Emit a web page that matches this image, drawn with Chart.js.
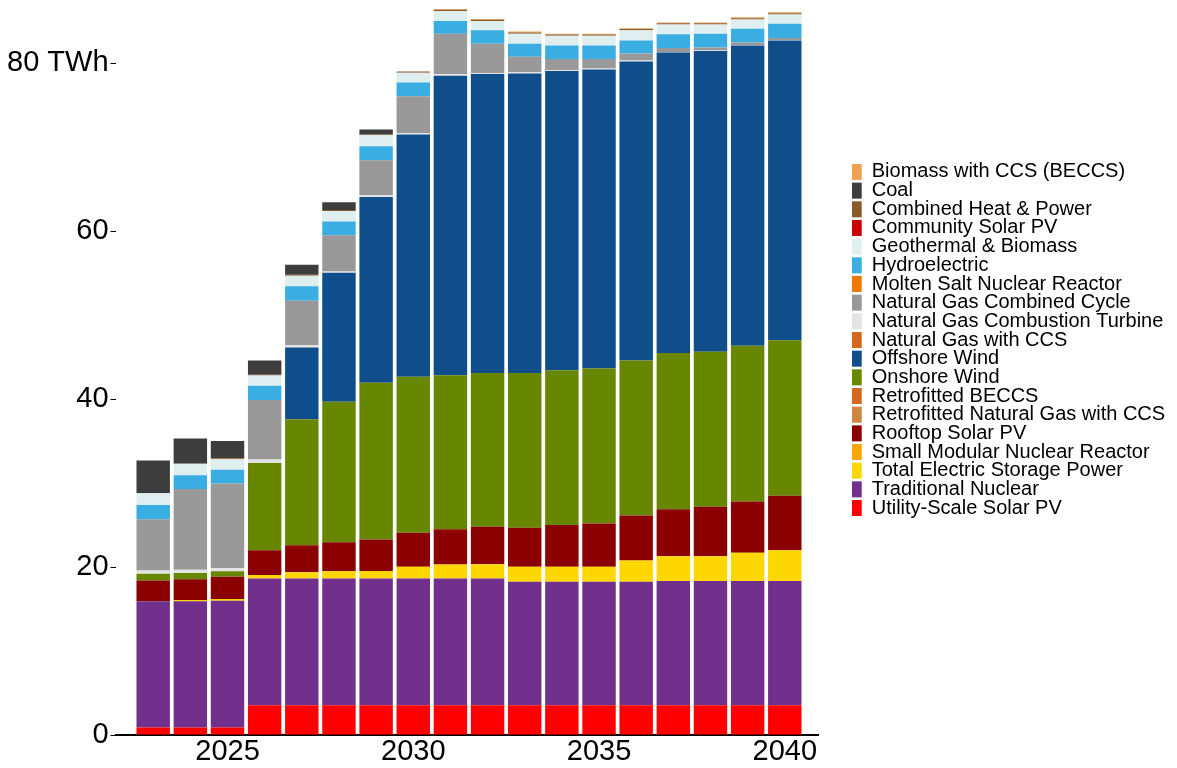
<!DOCTYPE html>
<html>
<head>
<meta charset="utf-8">
<script src="https://cdn.jsdelivr.net/npm/chart.js@4.4.1/dist/chart.umd.min.js"></script>
<style>
  body { margin: 0; background: #fff; }
</style>
</head>
<body>
<canvas id="myChart" width="1177" height="768"></canvas>
<script>
// years and tick labels
const years = [2023, 2024, 2025, 2026, 2027, 2028, 2029, 2030, 2031, 2032, 2033, 2034, 2035, 2036, 2037, 2038, 2039, 2040];
const xTicks = [2025, 2030, 2035, 2040];
const yTicks = [0, 20, 40, 60, 80];
const unit = 'TWh';

// generation by source, TWh
const utilitySolar = [0.9, 0.9, 0.9, 3.55, 3.55, 3.55, 3.55, 3.55, 3.55, 3.55, 3.55, 3.55, 3.55, 3.55, 3.55, 3.55, 3.55, 3.55];
const nuclear = [15.05, 15.05, 15.1, 15.1, 15.1, 15.1, 15.1, 15.1, 15.1, 15.1, 14.7, 14.7, 14.7, 14.7, 14.8, 14.8, 14.8, 14.8];
const storage = [0, 0.15, 0.2, 0.4, 0.75, 0.85, 0.9, 1.4, 1.65, 1.7, 1.8, 1.8, 1.8, 2.55, 2.95, 2.95, 3.35, 3.65];
const smr = [0, 0, 0, 0, 0, 0, 0, 0, 0, 0, 0, 0, 0, 0, 0, 0, 0, 0];
const rooftopSolar = [2.45, 2.45, 2.65, 2.95, 3.2, 3.45, 3.75, 4.05, 4.2, 4.45, 4.65, 4.95, 5.15, 5.35, 5.6, 5.9, 6.1, 6.5];
const retroNgCcs = [0, 0, 0, 0, 0, 0, 0, 0, 0, 0, 0, 0, 0, 0, 0, 0, 0, 0];
const retroBeccs = [0, 0, 0, 0, 0, 0, 0, 0, 0, 0, 0, 0, 0, 0, 0, 0, 0, 0];
const onshore = [0.8, 0.75, 0.65, 10.4, 15.0, 16.75, 18.65, 18.55, 18.35, 18.3, 18.4, 18.45, 18.45, 18.45, 18.6, 18.45, 18.55, 18.5];
const offshore = [0, 0, 0, 0, 8.55, 15.35, 22.1, 28.85, 35.65, 35.6, 35.65, 35.6, 35.6, 35.6, 35.75, 35.8, 35.75, 35.7];
const ngCcs = [0, 0, 0, 0, 0, 0, 0, 0, 0, 0, 0, 0, 0, 0, 0, 0, 0, 0];
const ngCt = [0.4, 0.4, 0.4, 0.4, 0.25, 0.15, 0.25, 0.15, 0.2, 0.1, 0.15, 0.1, 0.1, 0.1, 0.05, 0.05, 0.05, 0.05];
const ngCc = [6.1, 9.6, 10.05, 7.1, 5.3, 4.3, 4.15, 4.4, 4.8, 3.5, 1.85, 1.35, 1.15, 0.85, 0.5, 0.35, 0.3, 0.25];
const moltenSalt = [0, 0, 0, 0, 0, 0, 0, 0, 0, 0, 0, 0, 0, 0, 0, 0, 0, 0];
const hydro = [1.7, 1.65, 1.65, 1.7, 1.75, 1.65, 1.65, 1.65, 1.5, 1.6, 1.55, 1.6, 1.6, 1.55, 1.65, 1.65, 1.65, 1.7];
const geoBiomass = [1.4, 1.35, 1.25, 1.2, 1.25, 1.25, 1.3, 1.15, 1.2, 1.1, 1.2, 1.15, 1.15, 1.2, 1.15, 1.1, 1.1, 1.1];
const communitySolar = [0, 0, 0, 0, 0, 0, 0, 0, 0, 0, 0, 0, 0, 0, 0, 0, 0, 0];
const chp = [0, 0, 0.1, 0.1, 0.1, 0.1, 0.1, 0.15, 0.15, 0.15, 0.15, 0.15, 0.15, 0.15, 0.15, 0.15, 0.15, 0.15];
const coal = [3.9, 3.0, 2.05, 1.7, 1.2, 0.95, 0.6, 0, 0, 0, 0, 0, 0, 0, 0, 0, 0, 0];
const beccs = [0, 0, 0, 0, 0, 0, 0, 0, 0.1, 0.1, 0.1, 0.1, 0.1, 0.1, 0.1, 0.1, 0.1, 0.1];

// stack order, bottom first (legend shows it reversed = alphabetical)
const series = [
    ['Utility-Scale Solar PV', utilitySolar, '#ff0000'],
    ['Traditional Nuclear', nuclear, '#70308c'],
    ['Total Electric Storage Power', storage, '#ffd700'],
    ['Small Modular Nuclear Reactor', smr, '#ffa500'],
    ['Rooftop Solar PV', rooftopSolar, '#8b0000'],
    ['Retrofitted Natural Gas with CCS', retroNgCcs, '#cd853f'],
    ['Retrofitted BECCS', retroBeccs, '#d2691e'],
    ['Onshore Wind', onshore, '#678700'],
    ['Offshore Wind', offshore, '#104e8b'],
    ['Natural Gas with CCS', ngCcs, '#d2691e'],
    ['Natural Gas Combustion Turbine', ngCt, '#e4e4e4'],
    ['Natural Gas Combined Cycle', ngCc, '#999999'],
    ['Molten Salt Nuclear Reactor', moltenSalt, '#f07800'],
    ['Hydroelectric', hydro, '#3aade2'],
    ['Geothermal & Biomass', geoBiomass, '#dfeeee'],
    ['Community Solar PV', communitySolar, '#cc0000'],
    ['Combined Heat & Power', chp, '#8b5a2b'],
    ['Coal', coal, '#3d3d3d'],
    ['Biomass with CCS (BECCS)', beccs, '#f0a050']
];

const fontFamily = "'Liberation Sans', Arial, sans-serif";

// push the legend block to the right of the plot, leaving the gap seen in the original
const legendNudge = {
    id: 'legendNudge',
    afterLayout(chart) {
        const lg = chart.legend;
        lg.left = chart.chartArea.right + 33.3;
        lg.right = chart.width;
        lg.width = lg.right - lg.left;
    }
};

const ctx = document.getElementById('myChart');
new Chart(ctx, {
    type: 'bar',
    data: {
        datasets: series.map(function (s) {
            return {
                label: s[0],
                data: years.map((yr, i) => ({x: yr, y: s[1][i]})),
                backgroundColor: s[2],
                borderWidth: 0,
                barPercentage: 0.9,
                categoryPercentage: 1
            };
        })
    },
    options: {
        responsive: false,
        animation: false,
        devicePixelRatio: 1,
        layout: {padding: {left: 5, right: 87, top: 6, bottom: 0}},
        plugins: {
            tooltip: {enabled: false},
            legend: {
                position: 'right',
                align: 'start',
                reverse: true,
                title: {display: true, text: '', padding: {top: 147.3, bottom: 0}, font: {size: 10, lineHeight: 1}},
                labels: {
                    boxWidth: 11, boxHeight: 16, padding: -1.33,
                    color: '#000',
                    font: {family: fontFamily, size: 20}
                }
            }
        },
        scales: {
            x: {
                type: 'linear',
                stacked: true,
                offset: false,
                min: 2021.986, max: 2040.914,
                grid: {display: false, drawTicks: false},
                border: {display: true, color: '#000', width: 2},
                ticks: {
                    color: '#000', padding: 6, maxRotation: 0,
                    font: {family: fontFamily, size: 29, lineHeight: 0.72},
                    callback: v => String(v)
                },
                afterBuildTicks: s => { s.ticks = xTicks.map(v => ({value: v})); }
            },
            y: {
                stacked: true,
                min: 0, max: 86.8,
                grid: {drawOnChartArea: false, drawTicks: true, tickLength: 5, color: '#000', lineWidth: 1},
                border: {display: false},
                ticks: {
                    color: '#000', padding: 2,
                    font: {family: fontFamily, size: 29, lineHeight: 0.2},
                    callback: v => v === 80 ? '80 ' + unit : String(v)
                },
                afterBuildTicks: s => { s.ticks = yTicks.map(v => ({value: v})); }
            }
        }
    },
    plugins: [legendNudge]
});
</script>
</body>
</html>
